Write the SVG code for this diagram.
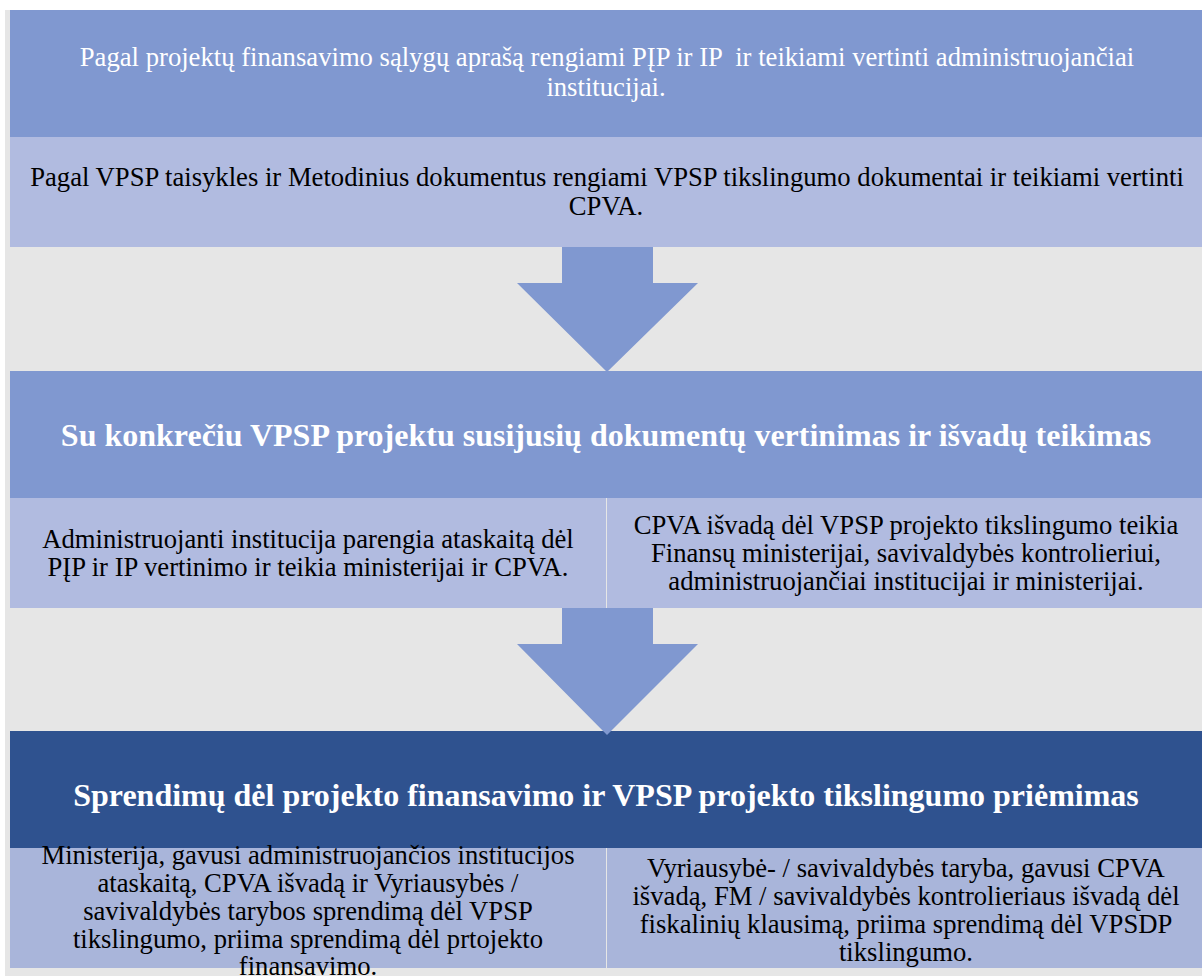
<svg xmlns="http://www.w3.org/2000/svg" width="1202" height="976" viewBox="0 0 1202 976">
<style>
.t{font-family:"Liberation Serif","Times New Roman",serif;text-anchor:middle;font-size:26.67px}
.w{fill:#ffffff}
.k{fill:#000000}
.b{font-weight:bold;font-size:32px}
.hd{fill:#8098d0}
.lt{fill:#b1bbe0}
.lt2{fill:#a9b5da}
.dk{fill:#2f528f}
.arr{fill:#8098d0}
</style>
<rect x="0" y="0" width="1202" height="976" fill="#ffffff"/>
<rect x="5" y="10" width="1197" height="966" fill="#e6e6e6"/>
<g id="box1">
<rect class="hd" x="10" y="10" width="1192" height="127"/>
<text class="t w" x="607" y="66" xml:space="preserve">Pagal projektų finansavimo sąlygų aprašą rengiami PĮP ir IP  ir teikiami vertinti administruojančiai</text>
<text class="t w" x="606" y="96">institucijai.</text>
</g>
<g id="box1b">
<rect class="lt" x="10" y="137" width="1192" height="110"/>
<text class="t k" x="607" y="186">Pagal VPSP taisykles ir Metodinius dokumentus rengiami VPSP tikslingumo dokumentai ir teikiami vertinti</text>
<text class="t k" x="606" y="215">CPVA.</text>
</g>
<g id="box2">
<rect class="hd" x="10" y="371" width="1192" height="127"/>
<text class="t w b" x="606" y="446">Su konkrečiu VPSP projektu susijusių dokumentų vertinimas ir išvadų teikimas</text>
</g>
<g id="box2a">
<rect class="lt" x="10" y="498" width="596" height="110"/>
<text class="t k" x="308" y="548">Administruojanti institucija parengia ataskaitą dėl</text>
<text class="t k" x="308" y="576">PĮP ir IP vertinimo ir teikia ministerijai ir CPVA.</text>
</g>
<g id="box2b">
<rect class="lt" x="607" y="498" width="595" height="110"/>
<text class="t k" x="906" y="534">CPVA išvadą dėl VPSP projekto tikslingumo teikia</text>
<text class="t k" x="906" y="562">Finansų ministerijai, savivaldybės kontrolieriui,</text>
<text class="t k" x="906" y="590">administruojančiai institucijai ir ministerijai.</text>
</g>
<g id="box3">
<rect class="dk" x="10" y="731" width="1192" height="117"/>
<text class="t w b" x="606" y="806">Sprendimų dėl projekto finansavimo ir VPSP projekto tikslingumo priėmimas</text>
</g>
<g id="box3a">
<rect class="lt2" x="10" y="848" width="596" height="120"/>
<text class="t k" x="308" y="864">Ministerija, gavusi administruojančios institucijos</text>
<text class="t k" x="308" y="892">ataskaitą, CPVA išvadą ir Vyriausybės /</text>
<text class="t k" x="308" y="920">savivaldybės tarybos sprendimą dėl VPSP</text>
<text class="t k" x="308" y="948">tikslingumo, priima sprendimą dėl prtojekto</text>
<text class="t k" x="308" y="975">finansavimo.</text>
</g>
<g id="box3b">
<rect class="lt2" x="607" y="848" width="595" height="120"/>
<text class="t k" x="906" y="877">Vyriausybė- / savivaldybės taryba, gavusi CPVA</text>
<text class="t k" x="906" y="905">išvadą, FM / savivaldybės kontrolieriaus išvadą dėl</text>
<text class="t k" x="906" y="933">fiskalinių klausimą, priima sprendimą dėl VPSDP</text>
<text class="t k" x="906" y="961">tikslingumo.</text>
</g>
<g id="connectors">
<polygon class="arr" points="562,247 653,247 653,283 698,283 607,372 517,283 562,283"/>
<polygon class="arr" points="562,608 653,608 653,644 698,644 607,735 517,644 562,644"/>
</g>
</svg>
